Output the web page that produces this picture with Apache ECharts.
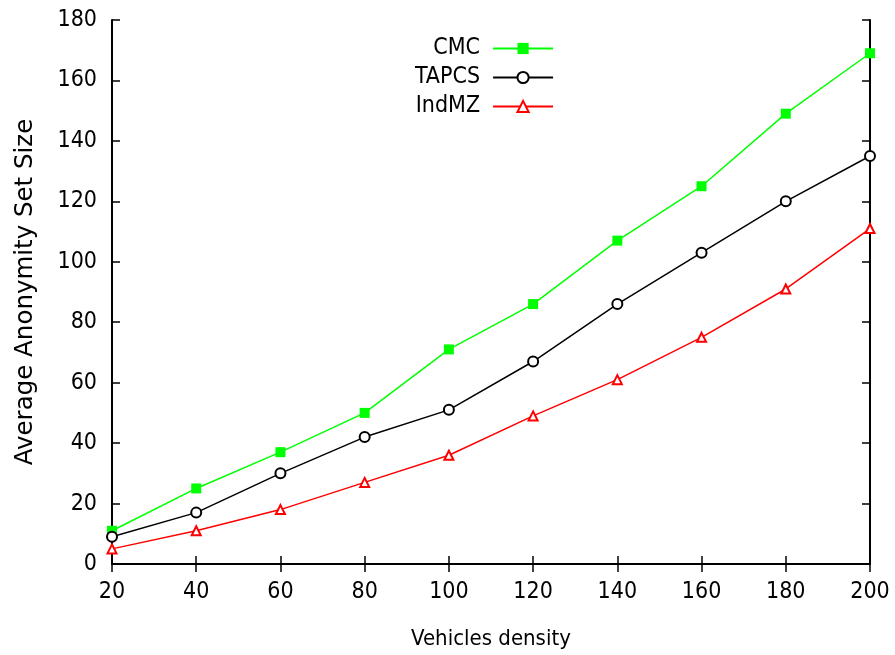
<!DOCTYPE html>
<html><head><meta charset="utf-8">
<script src="https://cdn.jsdelivr.net/npm/echarts@6/dist/echarts.min.js"></script>
<style>html,body{margin:0;padding:0;background:#fff}#c{width:895px;height:655px}</style>
</head><body><div id="c"></div>
<script>
var xValues = [20, 40, 60, 80, 100, 120, 140, 160, 180, 200];
var cmc = [11, 25, 37, 50, 71, 86, 107, 125, 149, 169];
var tapcs = [9, 17, 30, 42, 51, 67, 86, 103, 120, 135];
var indmz = [5, 11, 18, 27, 36, 49, 61, 75, 91, 111];
var seriesNames = ['CMC', 'TAPCS', 'IndMZ'];

function pairs(v){ return xValues.map(function(x,i){ return [x, v[i]]; }); }
var font = 'DejaVu Sans Condensed';
var chart = echarts.init(document.getElementById('c'));
var axisLine = {lineStyle:{color:'#000', width:2}};
var tick = {inside:true, length:8, lineStyle:{color:'#000', width:1.5}};
chart.setOption({
  animation:false,
  backgroundColor:'#fff',
  grid:{left:112, right:25, top:20, bottom:88},
  legend:{
    orient:'vertical', left:410, top:32, itemGap:6, itemWidth:60, itemHeight:14,
    data:seriesNames,
    textStyle:{fontFamily:font, fontSize:23, color:'#000', width:80, align:'right', padding:[0,8,0,0]},
    align:'right'
  },
  xAxis:[{
    type:'value', min:20, max:200, interval:20,
    name:'Vehicles density', nameLocation:'middle', nameGap:64,
    nameTextStyle:{fontFamily:font, fontSize:22, color:'#000'},
    axisLine:axisLine, axisTick:tick,
    axisLabel:{fontFamily:font, fontSize:23, color:'#000', margin:17},
    splitLine:{show:false}
  },{
    type:'value', position:'top', min:20, max:200, interval:20,
    axisLine:axisLine, axisTick:tick,
    axisLabel:{show:false}, splitLine:{show:false}
  }],
  yAxis:[{
    type:'value', min:0, max:180, interval:20,
    name:'Average Anonymity Set Size', nameLocation:'middle', nameGap:74,
    nameTextStyle:{fontFamily:'DejaVu Sans', fontSize:24.5, color:'#000'},
    axisLine:axisLine, axisTick:tick,
    axisLabel:{fontFamily:font, fontSize:23, color:'#000', margin:15},
    splitLine:{show:false}
  },{
    type:'value', position:'right', min:0, max:180, interval:20,
    axisLine:axisLine, axisTick:tick,
    axisLabel:{show:false}, splitLine:{show:false}
  }],
  series:[
    {name:'CMC', type:'line', data:pairs(cmc), symbol:'rect', symbolSize:10,
     lineStyle:{color:'#00ff00', width:1.5}, itemStyle:{color:'#00ff00'}},
    {name:'TAPCS', type:'line', data:pairs(tapcs), symbol:'emptyCircle', symbolSize:10,
     lineStyle:{color:'#000', width:1.5}, itemStyle:{color:'#000', borderWidth:1.5}},
    {name:'IndMZ', type:'line', data:pairs(indmz), symbol:'emptyTriangle', symbolSize:9,
     lineStyle:{color:'#ff0000', width:1.5}, itemStyle:{color:'#ff0000', borderWidth:1.5}}
  ]
});
</script></body></html>
